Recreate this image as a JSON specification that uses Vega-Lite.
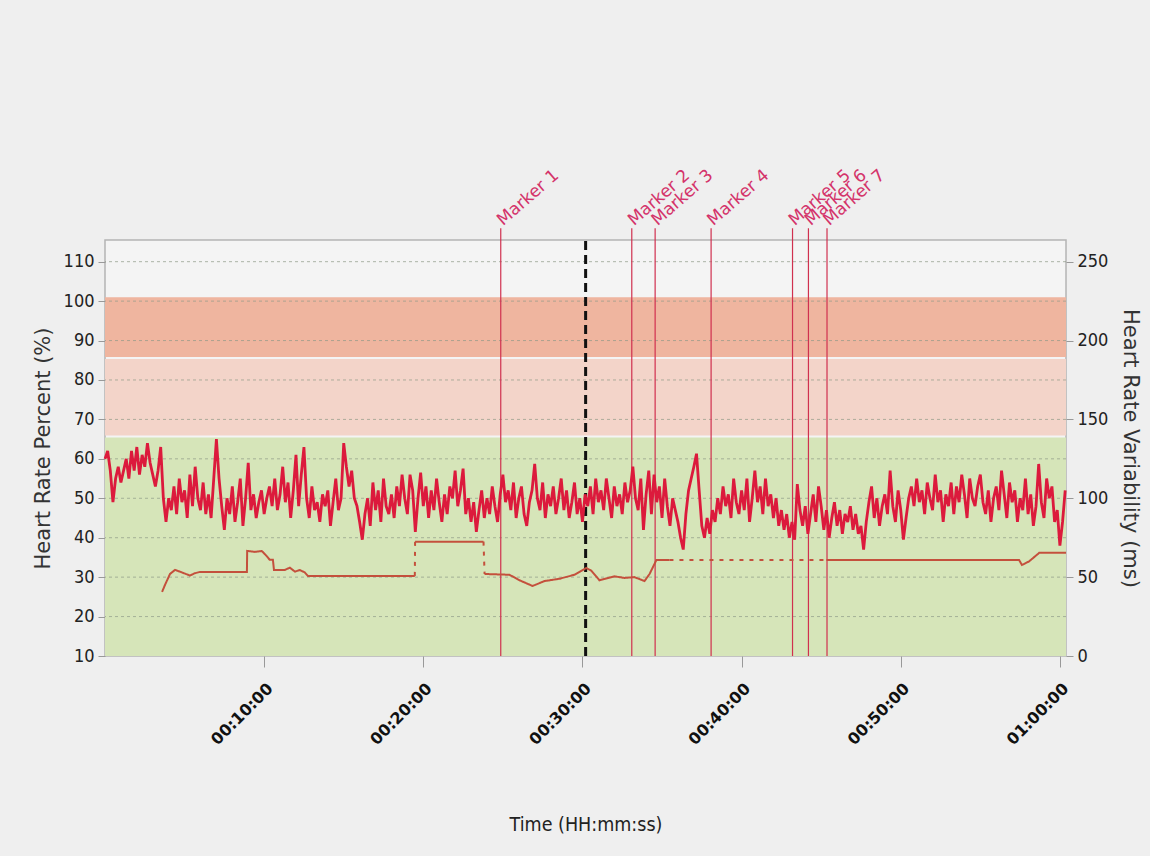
{
  "$schema": "https://vega.github.io/schema/vega-lite/v6.json",
  "autosize": "none",
  "width": 961,
  "height": 416,
  "padding": {"left": 105, "top": 240, "right": 84, "bottom": 200},
  "background": "#efefef",
  "config": {
    "view": {"fill": "#f4f4f4", "stroke": "#b4b4b4", "strokeWidth": 1.5},
    "font": "DejaVu Sans"
  },
  "datasets": {
    "zones": [
      {"zone": "Zone 1", "lo": 10, "hi": 65.4},
      {"zone": "Zone 2", "lo": 65.9, "hi": 85.3},
      {"zone": "Zone 3", "lo": 85.8, "hi": 101}
    ],
    "grid": [{"g": 20}, {"g": 30}, {"g": 40}, {"g": 50}, {"g": 60}, {"g": 70}, {"g": 80}, {"g": 90}, {"g": 100}, {"g": 110}],
    "markers": [
      {"name": "Marker 1", "t": 1492},
      {"name": "Marker 2", "t": 1986},
      {"name": "Marker 3", "t": 2074},
      {"name": "Marker 4", "t": 2285},
      {"name": "Marker 5", "t": 2592},
      {"name": "Marker 6", "t": 2652},
      {"name": "Marker 7", "t": 2722}
    ],
    "current": [{"t": 1812}],
    "hr": [
      {"t":0,"hr":60},{"t":10,"hr":62},{"t":20,"hr":57},{"t":30,"hr":49},{"t":40,"hr":55},{"t":50,"hr":58},
      {"t":60,"hr":54},{"t":70,"hr":57},{"t":80,"hr":60},{"t":90,"hr":55},{"t":100,"hr":62},{"t":110,"hr":57},
      {"t":120,"hr":63},{"t":130,"hr":56},{"t":140,"hr":61},{"t":150,"hr":58},{"t":160,"hr":64},{"t":170,"hr":59},
      {"t":180,"hr":56},{"t":190,"hr":53},{"t":200,"hr":57},{"t":210,"hr":63},{"t":220,"hr":50},{"t":230,"hr":44},
      {"t":240,"hr":50},{"t":250,"hr":47},{"t":260,"hr":53},{"t":270,"hr":46},{"t":280,"hr":55},{"t":290,"hr":49},
      {"t":300,"hr":52},{"t":310,"hr":45},{"t":320,"hr":56},{"t":330,"hr":48},{"t":340,"hr":58},{"t":350,"hr":50},
      {"t":360,"hr":47},{"t":370,"hr":54},{"t":380,"hr":46},{"t":390,"hr":51},{"t":400,"hr":45},{"t":410,"hr":55},
      {"t":420,"hr":65},{"t":430,"hr":55},{"t":440,"hr":48},{"t":450,"hr":42},{"t":460,"hr":50},{"t":470,"hr":46},
      {"t":480,"hr":53},{"t":490,"hr":44},{"t":500,"hr":49},{"t":510,"hr":55},{"t":520,"hr":43},{"t":530,"hr":50},
      {"t":540,"hr":59},{"t":550,"hr":47},{"t":560,"hr":51},{"t":570,"hr":45},{"t":580,"hr":49},{"t":590,"hr":52},
      {"t":600,"hr":46},{"t":610,"hr":50},{"t":620,"hr":53},{"t":630,"hr":48},{"t":640,"hr":55},{"t":650,"hr":47},
      {"t":660,"hr":51},{"t":670,"hr":58},{"t":680,"hr":49},{"t":690,"hr":54},{"t":700,"hr":45},{"t":710,"hr":52},
      {"t":720,"hr":61},{"t":730,"hr":48},{"t":740,"hr":56},{"t":750,"hr":63},{"t":760,"hr":50},{"t":770,"hr":45},
      {"t":780,"hr":53},{"t":790,"hr":47},{"t":800,"hr":49},{"t":810,"hr":44},{"t":820,"hr":51},{"t":830,"hr":48},
      {"t":840,"hr":52},{"t":850,"hr":43},{"t":860,"hr":49},{"t":870,"hr":55},{"t":880,"hr":47},{"t":890,"hr":50},
      {"t":900,"hr":64},{"t":910,"hr":58},{"t":920,"hr":53},{"t":930,"hr":57},{"t":940,"hr":50},{"t":950,"hr":48},
      {"t":960,"hr":44},{"t":970,"hr":39.5},{"t":980,"hr":46},{"t":990,"hr":50},{"t":1000,"hr":43},{"t":1010,"hr":54},
      {"t":1020,"hr":47},{"t":1030,"hr":52},{"t":1040,"hr":44},{"t":1050,"hr":55},{"t":1060,"hr":48},{"t":1070,"hr":46},
      {"t":1080,"hr":51},{"t":1090,"hr":45},{"t":1100,"hr":53},{"t":1110,"hr":48},{"t":1120,"hr":56},{"t":1130,"hr":50},
      {"t":1140,"hr":46},{"t":1150,"hr":56},{"t":1160,"hr":52},{"t":1170,"hr":41.5},{"t":1180,"hr":50},{"t":1190,"hr":56.5},
      {"t":1200,"hr":48},{"t":1210,"hr":53},{"t":1220,"hr":45},{"t":1230,"hr":52},{"t":1240,"hr":47},{"t":1250,"hr":55},
      {"t":1260,"hr":49},{"t":1270,"hr":44},{"t":1280,"hr":51},{"t":1290,"hr":46},{"t":1300,"hr":53},{"t":1310,"hr":50},
      {"t":1320,"hr":57},{"t":1330,"hr":48},{"t":1340,"hr":52},{"t":1350,"hr":57.5},{"t":1360,"hr":46},{"t":1370,"hr":50},
      {"t":1380,"hr":44},{"t":1390,"hr":49},{"t":1400,"hr":41.5},{"t":1410,"hr":47},{"t":1420,"hr":52},{"t":1430,"hr":45},
      {"t":1440,"hr":50},{"t":1450,"hr":46},{"t":1460,"hr":53},{"t":1470,"hr":48},{"t":1480,"hr":44},{"t":1490,"hr":51},
      {"t":1500,"hr":56},{"t":1510,"hr":49},{"t":1520,"hr":52},{"t":1530,"hr":47},{"t":1540,"hr":54},{"t":1550,"hr":45},
      {"t":1560,"hr":50},{"t":1570,"hr":53},{"t":1580,"hr":46},{"t":1590,"hr":43},{"t":1600,"hr":49},{"t":1610,"hr":52},
      {"t":1620,"hr":58.7},{"t":1630,"hr":50},{"t":1640,"hr":47},{"t":1650,"hr":54},{"t":1660,"hr":45},{"t":1670,"hr":51},
      {"t":1680,"hr":48},{"t":1690,"hr":53},{"t":1700,"hr":46},{"t":1710,"hr":50},{"t":1720,"hr":55},{"t":1730,"hr":47},
      {"t":1740,"hr":52},{"t":1750,"hr":45},{"t":1760,"hr":49},{"t":1770,"hr":54},{"t":1780,"hr":46},{"t":1790,"hr":50},
      {"t":1800,"hr":44},{"t":1810,"hr":51},{"t":1820,"hr":48},{"t":1830,"hr":53},{"t":1840,"hr":46},{"t":1850,"hr":55},
      {"t":1860,"hr":49},{"t":1870,"hr":52},{"t":1880,"hr":47},{"t":1890,"hr":55},{"t":1900,"hr":50},{"t":1910,"hr":45},
      {"t":1920,"hr":53},{"t":1930,"hr":48},{"t":1940,"hr":51},{"t":1950,"hr":46},{"t":1960,"hr":54},{"t":1970,"hr":49},
      {"t":1980,"hr":52},{"t":1990,"hr":58},{"t":2000,"hr":50},{"t":2010,"hr":47},{"t":2020,"hr":55},{"t":2030,"hr":42},
      {"t":2040,"hr":51},{"t":2050,"hr":57},{"t":2060,"hr":46},{"t":2070,"hr":56},{"t":2080,"hr":49},{"t":2090,"hr":53},
      {"t":2100,"hr":45},{"t":2110,"hr":55},{"t":2120,"hr":48},{"t":2130,"hr":43},{"t":2140,"hr":50},{"t":2150,"hr":47},
      {"t":2160,"hr":44},{"t":2170,"hr":40},{"t":2180,"hr":37},{"t":2190,"hr":46},{"t":2200,"hr":52},{"t":2210,"hr":55},
      {"t":2220,"hr":58},{"t":2230,"hr":61.3},{"t":2240,"hr":52},{"t":2250,"hr":43},{"t":2260,"hr":40},{"t":2270,"hr":45},
      {"t":2280,"hr":41},{"t":2290,"hr":47},{"t":2300,"hr":44},{"t":2310,"hr":50},{"t":2320,"hr":46},{"t":2330,"hr":53},
      {"t":2340,"hr":48},{"t":2350,"hr":51},{"t":2360,"hr":45},{"t":2370,"hr":55},{"t":2380,"hr":49},{"t":2390,"hr":46},
      {"t":2400,"hr":52},{"t":2410,"hr":47},{"t":2420,"hr":55},{"t":2430,"hr":44},{"t":2440,"hr":50},{"t":2450,"hr":57},
      {"t":2460,"hr":49},{"t":2470,"hr":53},{"t":2480,"hr":46},{"t":2490,"hr":55},{"t":2500,"hr":48},{"t":2510,"hr":51},
      {"t":2520,"hr":45},{"t":2530,"hr":50},{"t":2540,"hr":43},{"t":2550,"hr":47},{"t":2560,"hr":42},{"t":2570,"hr":46},
      {"t":2580,"hr":40},{"t":2590,"hr":44},{"t":2600,"hr":39.5},{"t":2610,"hr":53.6},{"t":2620,"hr":47},{"t":2630,"hr":43},
      {"t":2640,"hr":48},{"t":2650,"hr":41},{"t":2660,"hr":46},{"t":2670,"hr":51},{"t":2680,"hr":44},{"t":2690,"hr":53},
      {"t":2700,"hr":48},{"t":2710,"hr":42},{"t":2720,"hr":47},{"t":2730,"hr":40},{"t":2740,"hr":45},{"t":2750,"hr":49},
      {"t":2760,"hr":43},{"t":2770,"hr":47},{"t":2780,"hr":41},{"t":2790,"hr":46},{"t":2800,"hr":44},{"t":2810,"hr":48},
      {"t":2820,"hr":42},{"t":2830,"hr":46},{"t":2840,"hr":41},{"t":2850,"hr":43},{"t":2860,"hr":37},{"t":2870,"hr":44},
      {"t":2880,"hr":49},{"t":2890,"hr":53},{"t":2900,"hr":45},{"t":2910,"hr":50},{"t":2920,"hr":43},{"t":2930,"hr":48},
      {"t":2940,"hr":51},{"t":2950,"hr":46},{"t":2960,"hr":57},{"t":2970,"hr":48},{"t":2980,"hr":44},{"t":2990,"hr":52},
      {"t":3000,"hr":47},{"t":3010,"hr":39.5},{"t":3020,"hr":45},{"t":3030,"hr":50},{"t":3040,"hr":53},{"t":3050,"hr":48},
      {"t":3060,"hr":55},{"t":3070,"hr":49},{"t":3080,"hr":52},{"t":3090,"hr":46},{"t":3100,"hr":54},{"t":3110,"hr":50},
      {"t":3120,"hr":47},{"t":3130,"hr":56},{"t":3140,"hr":49},{"t":3150,"hr":52},{"t":3160,"hr":44},{"t":3170,"hr":51},
      {"t":3180,"hr":48},{"t":3190,"hr":54},{"t":3200,"hr":46},{"t":3210,"hr":53},{"t":3220,"hr":49},{"t":3230,"hr":56},
      {"t":3240,"hr":51},{"t":3250,"hr":45},{"t":3260,"hr":55},{"t":3270,"hr":50},{"t":3280,"hr":48},{"t":3290,"hr":53},
      {"t":3300,"hr":56},{"t":3310,"hr":49},{"t":3320,"hr":46},{"t":3330,"hr":52},{"t":3340,"hr":44},{"t":3350,"hr":50},
      {"t":3360,"hr":53},{"t":3370,"hr":47},{"t":3380,"hr":57},{"t":3390,"hr":51},{"t":3400,"hr":45},{"t":3410,"hr":54},
      {"t":3420,"hr":49},{"t":3430,"hr":52},{"t":3440,"hr":44},{"t":3450,"hr":50},{"t":3460,"hr":47},{"t":3470,"hr":55},
      {"t":3480,"hr":46},{"t":3490,"hr":51},{"t":3500,"hr":43},{"t":3510,"hr":48},{"t":3520,"hr":58.7},{"t":3530,"hr":49},
      {"t":3540,"hr":45},{"t":3550,"hr":55},{"t":3560,"hr":50},{"t":3570,"hr":53},{"t":3580,"hr":44},{"t":3590,"hr":47},
      {"t":3600,"hr":38},{"t":3610,"hr":44},{"t":3620,"hr":52}
    ],
    "hrv": [
      {"seg":"a","style":"solid","t":215,"hrv":40.6},{"seg":"a","style":"solid","t":226,"hrv":45},{"seg":"a","style":"solid","t":245,"hrv":52},
      {"seg":"a","style":"solid","t":264,"hrv":54.6},{"seg":"a","style":"solid","t":290,"hrv":53},{"seg":"a","style":"solid","t":320,"hrv":51},
      {"seg":"a","style":"solid","t":339,"hrv":52.5},{"seg":"a","style":"solid","t":358,"hrv":53.3},{"seg":"a","style":"solid","t":535,"hrv":53.3},
      {"seg":"a","style":"solid","t":536,"hrv":66.6},{"seg":"a","style":"solid","t":565,"hrv":66},{"seg":"a","style":"solid","t":591,"hrv":66.6},
      {"seg":"a","style":"solid","t":606,"hrv":64},{"seg":"a","style":"solid","t":621,"hrv":61},{"seg":"a","style":"solid","t":633,"hrv":61},
      {"seg":"a","style":"solid","t":637,"hrv":54.6},{"seg":"a","style":"solid","t":678,"hrv":54.6},{"seg":"a","style":"solid","t":697,"hrv":56},
      {"seg":"a","style":"solid","t":716,"hrv":53.5},{"seg":"a","style":"solid","t":734,"hrv":54.5},{"seg":"a","style":"solid","t":753,"hrv":53},
      {"seg":"a","style":"solid","t":765,"hrv":50.8},{"seg":"a","style":"solid","t":1168,"hrv":50.8},
      {"seg":"g1","style":"gap","t":1168,"hrv":50.8},{"seg":"g1","style":"gap","t":1169,"hrv":72.5},
      {"seg":"c","style":"solid","t":1169,"hrv":72.5},{"seg":"c","style":"solid","t":1427,"hrv":72.5},
      {"seg":"g2","style":"gap","t":1427,"hrv":72.5},{"seg":"g2","style":"gap","t":1431,"hrv":52},
      {"seg":"d","style":"solid","t":1431,"hrv":52},{"seg":"d","style":"solid","t":1525,"hrv":51.5},{"seg":"d","style":"solid","t":1563,"hrv":48},
      {"seg":"d","style":"solid","t":1612,"hrv":44.4},{"seg":"d","style":"solid","t":1657,"hrv":47.5},{"seg":"d","style":"solid","t":1714,"hrv":49},
      {"seg":"d","style":"solid","t":1770,"hrv":51.5},{"seg":"d","style":"solid","t":1815,"hrv":55.8},{"seg":"d","style":"solid","t":1834,"hrv":54},
      {"seg":"d","style":"solid","t":1864,"hrv":48},{"seg":"d","style":"solid","t":1921,"hrv":50.5},{"seg":"d","style":"solid","t":1958,"hrv":49.5},
      {"seg":"d","style":"solid","t":1996,"hrv":50},{"seg":"d","style":"solid","t":2034,"hrv":47.5},{"seg":"d","style":"solid","t":2053,"hrv":52},
      {"seg":"d","style":"solid","t":2079,"hrv":60.9},{"seg":"d","style":"solid","t":2128,"hrv":60.9},
      {"seg":"g3","style":"gap","t":2128,"hrv":60.9},{"seg":"g3","style":"gap","t":2720,"hrv":60.9},
      {"seg":"e","style":"solid","t":2720,"hrv":60.9},{"seg":"e","style":"solid","t":3446,"hrv":60.9},{"seg":"e","style":"solid","t":3457,"hrv":57.7},
      {"seg":"e","style":"solid","t":3484,"hrv":60},{"seg":"e","style":"solid","t":3522,"hrv":65.4},{"seg":"e","style":"solid","t":3623,"hrv":65.4}
    ]
  },
  "layer": [
    {
      "layer": [
        {
          "data": {"name": "zones"},
          "mark": {"type": "rect"},
          "encoding": {
            "y": {
              "field": "lo", "type": "quantitative",
              "scale": {"domain": [10, 115.5], "nice": false, "zero": false},
              "axis": {
                "title": "Heart Rate Percent (%)", "orient": "left",
                "values": [10, 20, 30, 40, 50, 60, 70, 80, 90, 100, 110],
                "labelFontSize": 18, "labelFont": "DejaVu Sans Condensed", "labelColor": "#222", "tickColor": "#999", "tickSize": 7, "labelPadding": 4,
                "domain": false, "grid": false,
                "titleFontSize": 21, "titleColor": "#333", "titleFontWeight": "normal", "titlePadding": 10
              }
            },
            "y2": {"field": "hi"},
            "color": {"field": "zone", "type": "nominal", "scale": {"domain": ["Zone 1", "Zone 2", "Zone 3"], "range": ["#d6e5b9", "#f3d4c9", "#efb59f"]}, "legend": null}
          }
        },
        {
          "data": {"name": "grid"},
          "mark": {"type": "rule", "color": "#8f9a88", "strokeDash": [3, 3], "strokeWidth": 1, "opacity": 0.7},
          "encoding": {"y": {"field": "g", "type": "quantitative"}}
        },
        {
          "data": {"name": "markers"},
          "mark": {"type": "rule", "color": "#d0304f", "strokeWidth": 1.2},
          "encoding": {
            "x": {"field": "t", "type": "quantitative"},
            "y": {"datum": 10}, "y2": {"datum": 118.5}
          }
        },
        {
          "data": {"name": "markers"},
          "mark": {"type": "text", "color": "#d4336a", "fontSize": 17, "angle": -41, "align": "left", "baseline": "alphabetic", "dx": 3, "dy": 0},
          "encoding": {
            "x": {"field": "t", "type": "quantitative"},
            "y": {"datum": 118.5}, "text": {"field": "name"}
          }
        },
        {
          "data": {"name": "current"},
          "mark": {"type": "rule", "color": "#111", "strokeWidth": 3, "strokeDash": [9, 5]},
          "encoding": {
            "x": {"field": "t", "type": "quantitative"},
            "y": {"datum": 10}, "y2": {"datum": 115.5}
          }
        },
        {
          "data": {"name": "hr"},
          "mark": {"type": "line", "color": "#dc1a3c", "strokeWidth": 2.8},
          "encoding": {
            "x": {
              "field": "t", "type": "quantitative",
              "scale": {"domain": [0, 3623], "nice": false, "zero": false},
              "axis": {
                "title": "Time (HH:mm:ss)",
                "values": [600, 1200, 1800, 2400, 3000, 3600],
                "labelExpr": "utcFormat(datum.value * 1000, '%H:%M:%S')",
                "labelAngle": -45, "labelAlign": "right", "labelBaseline": "top",
                "labelFontSize": 16, "labelFontWeight": "bold", "labelColor": "#111", "labelPadding": 13,
                "tickSize": 11, "tickColor": "#999", "domain": false, "grid": false,
                "titleFontSize": 19.5, "titleColor": "#222", "titleFontWeight": "normal",
                "titleFont": "DejaVu Sans Condensed", "titlePadding": 68
              }
            },
            "y": {"field": "hr", "type": "quantitative"}
          }
        }
      ]
    },
    {
      "data": {"name": "hrv"},
      "mark": {"type": "line", "color": "#c4503c", "strokeWidth": 2},
      "encoding": {
        "x": {"field": "t", "type": "quantitative"},
        "y": {
          "field": "hrv", "type": "quantitative",
          "scale": {"domain": [0, 263.75], "nice": false, "zero": false},
          "axis": {
            "title": "Heart Rate Variability (ms)", "orient": "right",
            "values": [0, 50, 100, 150, 200, 250],
            "labelFontSize": 18, "labelFont": "DejaVu Sans Condensed", "labelColor": "#222", "tickColor": "#999", "tickSize": 7, "labelPadding": 4,
            "domain": false, "grid": false,
            "titleFontSize": 21, "titleColor": "#333", "titleFontWeight": "normal", "titlePadding": 12
          }
        },
        "detail": {"field": "seg"},
        "strokeDash": {"field": "style", "type": "nominal", "scale": {"domain": ["solid", "gap"], "range": [[1, 0], [4, 6]]}, "legend": null}
      }
    }
  ],
  "resolve": {"scale": {"y": "independent"}}
}
